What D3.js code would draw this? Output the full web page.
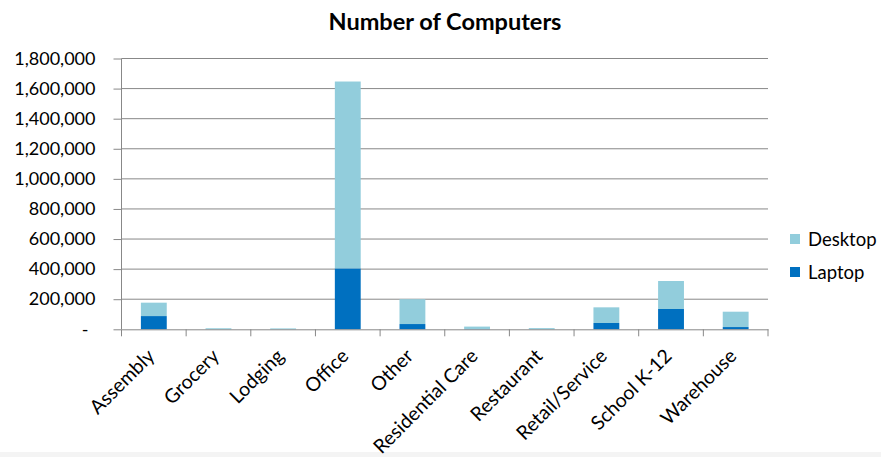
<!DOCTYPE html>
<html><head><meta charset="utf-8">
<script src="https://cdn.jsdelivr.net/npm/d3@7"></script>
<style>
body{margin:0;background:#fff;}
svg{display:block;}
text{font-family:Lato, "Open Sans", sans-serif;fill:#000;}
</style></head>
<body><svg id="c" width="881" height="457"></svg>
<script>
const categories = ["Assembly","Grocery","Lodging","Office","Other","Residential Care","Restaurant","Retail/Service","School K-12","Warehouse"];
const laptop  = [88000, 1000, 1000, 405000, 35000, 2000, 1000, 42000, 135000, 15000];
const desktop = [89000, 6000, 5000, 1242000, 165000, 16000, 7000, 104000, 186000, 102000];
const yTicks = [0,200000,400000,600000,800000,1000000,1200000,1400000,1600000,1800000];
const seriesNames = ["Laptop","Desktop"];
const colors = {Laptop:"#0070C0", Desktop:"#92CDDC"};
const title = "Number of Computers";

const svg = d3.select("#c");
svg.append("rect").attr("x",0).attr("y",452).attr("width",881).attr("height",5).attr("fill","#f4f4f4");
const m = {l:121.5, r:768, t:58.5, b:329.3};
const x = d3.scaleBand().domain(categories).range([m.l, m.r]).paddingInner(0.6).paddingOuter(0.3);
const xb = d3.scaleBand().domain(categories).range([m.l, m.r]);
const y = d3.scaleLinear().domain([0,1800000]).range([m.b, m.t]);

// gridlines
svg.append("g").selectAll("line").data(yTicks.slice(1)).join("line")
  .attr("x1", m.l).attr("x2", m.r).attr("y1", d=>y(d)).attr("y2", d=>y(d))
  .attr("stroke","#888").attr("stroke-width",1);

// stacked bars
const table = categories.map((c,i)=>({cat:c, Laptop:laptop[i], Desktop:desktop[i]}));
const stack = d3.stack().keys(seriesNames)(table);
svg.append("g").selectAll("g").data(stack).join("g").attr("fill", d=>colors[d.key])
  .selectAll("rect").data(d=>d).join("rect")
  .attr("x", d=>x(d.data.cat)).attr("width", x.bandwidth())
  .attr("y", d=>y(d[1])).attr("height", d=>y(d[0])-y(d[1]));

// y axis
const ya = svg.append("g").attr("transform",`translate(${m.l},0)`)
  .call(d3.axisLeft(y).tickValues(yTicks).tickSize(8).tickPadding(18)
    .tickFormat(d=> d===0 ? "-" : d3.format(",")(d)));
ya.select(".domain").attr("stroke","#888").attr("d",`M0,${m.t}V${m.b}`);
ya.selectAll(".tick line").attr("stroke","#888");
ya.selectAll("text").attr("font-size",18).attr("font-family","Lato").attr("fill","#000");
ya.selectAll(".tick").filter(d=>d===0).select("text").attr("dx",-7);

// x axis
const xa = svg.append("g").attr("transform",`translate(0,${m.b})`)
  .call(d3.axisBottom(xb).tickSize(0).tickFormat(""));
xa.select(".domain").attr("stroke","#888");
svg.append("g").selectAll("line").data(d3.range(categories.length+1)).join("line")
  .attr("x1", i=>m.l+i*xb.step()).attr("x2", i=>m.l+i*xb.step())
  .attr("y1", m.b).attr("y2", m.b+7).attr("stroke","#888");
svg.append("g").selectAll("text").data(categories).join("text")
  .attr("transform", d=>`translate(${xb(d)+xb.bandwidth()/2+2},${m.b+28}) rotate(-45)`)
  .attr("text-anchor","end").attr("font-size",19.5).text(d=>d);

// title
svg.append("text").attr("x",445).attr("y",30).attr("text-anchor","middle")
  .attr("font-size",23.5).attr("font-weight","bold").text(title);

// legend
const leg = svg.append("g");
["Desktop","Laptop"].forEach((k,i)=>{
  leg.append("rect").attr("x",790).attr("y",234+i*33).attr("width",10).attr("height",10).attr("fill",colors[k]);
  leg.append("text").attr("x",808).attr("y",246+i*33).attr("font-size",18.5).text(k);
});
</script></body></html>
